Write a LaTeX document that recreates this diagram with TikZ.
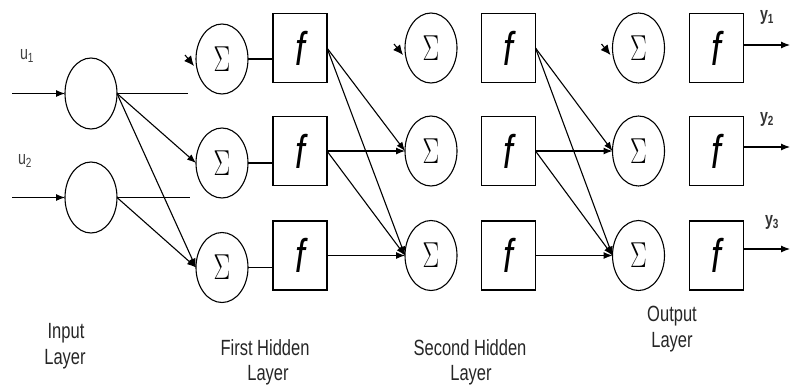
\documentclass[tikz,border=0pt]{standalone}
\usepackage{graphicx}
\usepackage{fontspec}
\setmainfont{Liberation Sans}
\newfontfamily\labfont[FakeStretch=0.75]{Liberation Sans}
\usetikzlibrary{shapes.geometric,arrows.meta}
\newcommand\sumsym{\scalebox{1}[1.45]{\fontsize{32}{34}\selectfont$\Sigma$}}
\newcommand\fsym{\scalebox{1}[1.35]{\fontsize{35}{38}\selectfont\itshape f}}
\begin{document}
\begin{tikzpicture}[x=1pt,y=-1pt,
  every node/.style={inner sep=0pt, outer sep=0pt},
  sumnode/.style={ellipse, draw, line width=1.1pt, minimum width=52pt, minimum height=70pt},
  innode/.style={ellipse, draw, line width=1.1pt, minimum width=52pt, minimum height=71pt},
  fbox/.style={rectangle, draw, line width=1.1pt, minimum width=54pt, minimum height=69pt},
  conn/.style={line width=1.1pt},
  arr/.style={line width=1.1pt, -{Latex[length=9pt,width=7pt]}},
  fbarr/.style={line width=1.1pt, -{Latex[length=10pt,width=9pt]}},
  lab/.style={font=\labfont\fontsize{22}{26}\selectfont, text=black!85},
  sub/.style={font=\labfont\fontsize{19}{21}\selectfont, text=black!75},
  ysub/.style={font=\labfont\bfseries\fontsize{19}{21}\selectfont, text=black!80},
]
\useasboundingbox (0,0) rectangle (791,389);

% input layer
\node[innode] (in1) at (91,93.5) {};
\node[innode] (in2) at (91,197.5) {};
\node[sub] (u1) at (27,56) {u\textsubscript{1}};
\node[sub] (u2) at (25,161) {u\textsubscript{2}};
\coordinate (s1) at (12,93.5);
\coordinate (s2) at (12,197.5);
\draw[arr] (s1) -- (in1);
\draw[arr] (s2) -- (in2);

% first hidden layer
\node[sumnode] (a1) at (222,59) {\sumsym};
\node[sumnode] (a2) at (222,163) {\sumsym};
\node[sumnode] (a3) at (222,267.5) {\sumsym};
\node[fbox] (f1) at (300,48) {\fsym};
\node[fbox] (f2) at (300,151) {\fsym};
\node[fbox] (f3) at (300,255.5) {\fsym};

% second hidden layer
\node[sumnode] (b1) at (431,48) {\sumsym};
\node[sumnode] (b2) at (431,151) {\sumsym};
\node[sumnode] (b3) at (431,255.5) {\sumsym};
\node[fbox] (g1) at (508.5,48) {\fsym};
\node[fbox] (g2) at (508.5,151) {\fsym};
\node[fbox] (g3) at (508.5,255.5) {\fsym};

% output layer
\node[sumnode] (c1) at (638.5,48) {\sumsym};
\node[sumnode] (c2) at (638.5,151) {\sumsym};
\node[sumnode] (c3) at (638.5,255.5) {\sumsym};
\node[fbox] (h1) at (716.5,48) {\fsym};
\node[fbox] (h2) at (716.5,151) {\fsym};
\node[fbox] (h3) at (716.5,255.5) {\fsym};

% input connections
\coordinate (e1) at (188,93.5);
\coordinate (e2) at (190,197.5);
\draw[conn] (in1.east) -- (e1);
\draw[conn] (in2.east) -- (e2);
\draw[arr] (in1.east) -- (a2.west);
\draw[arr] (in1.east) -- (a3.west);
\draw[arr] (in2.east) -- (a3.west);

% sum to f in first hidden layer
\draw[conn] (a1.east) -- (a1.east -| f1.west);
\draw[conn] (a2.east) -- (a2.east -| f2.west);
\draw[conn] (a3.east) -- (a3.east -| f3.west);

% first hidden to second hidden
\draw[arr] (f1.east) -- (b2.west);
\draw[arr] (f1.east) -- (b3.west);
\draw[arr] (f2.east) -- (b2.west);
\draw[arr] (f2.east) -- (b3.west);
\draw[arr] (f3.east) -- (b3.west);

% second hidden to output
\draw[arr] (g1.east) -- (c2.west);
\draw[arr] (g1.east) -- (c3.west);
\draw[arr] (g2.east) -- (c2.west);
\draw[arr] (g2.east) -- (c3.west);
\draw[arr] (g3.east) -- (c3.west);

% feedback arrow tips on top sums
\draw[fbarr] ([shift={(-11,-4)}]a1.west) -- ([shift={(-2,7)}]a1.west);
\draw[fbarr] ([shift={(-11,-4)}]b1.west) -- ([shift={(-2,7)}]b1.west);
\draw[fbarr] ([shift={(-11,-4)}]c1.west) -- ([shift={(-2,7)}]c1.west);

% outputs
\coordinate (y1e) at (790,45);
\coordinate (y2e) at (790,147);
\coordinate (y3e) at (790,249);
\draw[arr] (h1.east |- y1e) -- (y1e);
\draw[arr] (h2.east |- y2e) -- (y2e);
\draw[arr] (h3.east |- y3e) -- (y3e);
\node[ysub] (y1) at (767,17) {y\textsubscript{1}};
\node[ysub] (y2) at (767,119) {y\textsubscript{2}};
\node[ysub] (y3) at (772,222) {y\textsubscript{3}};

% layer labels
\node[lab, anchor=base] (t1) at (66,338) {Input};
\node[lab, anchor=base] (t1b) at (65,364) {Layer};
\node[lab, anchor=base] (t2) at (265,355) {First Hidden};
\node[lab, anchor=base] (t2b) at (268,380) {Layer};
\node[lab, anchor=base] (t3) at (470,355) {Second Hidden};
\node[lab, anchor=base] (t3b) at (471,380) {Layer};
\node[lab, anchor=base] (t4) at (672,321) {Output};
\node[lab, anchor=base] (t4b) at (672,347) {Layer};
\end{tikzpicture}
\end{document}
